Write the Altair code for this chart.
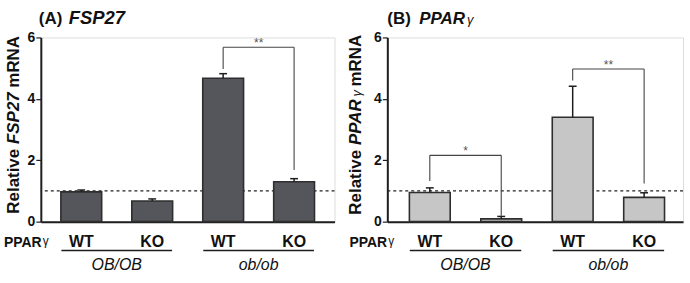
import altair as alt
import pandas as pd

# ---------------- data ----------------
genotype = ["WT", "KO", "WT", "KO"]
group = ["OB/OB", "OB/OB", "ob/ob", "ob/ob"]
bar_pos = [0.5, 1.5, 2.5, 3.5]

fsp27_mean = [0.97, 0.67, 4.67, 1.30]
fsp27_err = [0.06, 0.07, 0.15, 0.10]

pparg_mean = [0.95, 0.09, 3.40, 0.79]
pparg_err = [0.15, 0.08, 1.01, 0.15]

group_names = ["OB/OB", "ob/ob"]
group_left = [0.5, 2.5]
group_right = [1.5, 3.5]

# significance brackets
sig_a_left = [2.5]
sig_a_right = [3.5]
sig_a_lfoot = [4.97]
sig_a_top = [5.68]
sig_a_rfoot = [1.68]
sig_a_label = ["**"]

sig_b_left = [0.5, 2.5]
sig_b_right = [1.5, 3.5]
sig_b_lfoot = [1.32, 4.60]
sig_b_top = [2.16, 4.97]
sig_b_rfoot = [0.19, 1.24]
sig_b_label = ["*", "**"]

ref_level = [1.0]
y_ticks = [0, 2, 4, 6]

FONT = "Liberation Sans"
HALF = 0.28   # half bar width in x units
CAP = 0.055   # half cap width in x units
INK = "#1e1e1e"


def txt(s):
    return pd.DataFrame({"t": [s]})


def panel(mean, err, sig, fill, width, xdom, title_parts, ytitle_parts, ylab_x):
    xs = alt.Scale(domain=xdom, nice=False, zero=False)
    ys = alt.Scale(domain=[0, 6], nice=False, zero=True)
    xaxis = alt.Axis(title=None, labels=False, ticks=False, grid=False,
                     domainColor=INK, domainWidth=2)
    yaxis = alt.Axis(title=None, values=y_ticks, grid=False, domainColor=INK,
                     domainWidth=2, tickColor=INK, tickWidth=1.2, tickSize=5,
                     labelPadding=1, labelFont=FONT, labelFontSize=14,
                     labelFontWeight="bold", labelColor="#111")

    def X(f):
        return alt.X(f, type="quantitative", scale=xs, axis=xaxis)

    def X2(f):
        return alt.X2(f)

    def Y(f):
        return alt.Y(f, type="quantitative", scale=ys, axis=yaxis)

    df = pd.DataFrame({"pos": bar_pos, "mean": mean, "err": err,
                       "genotype": genotype, "group": group})
    df["top"] = df["mean"] + df["err"]
    df["capl"] = df["pos"] - CAP
    df["capr"] = df["pos"] + CAP
    base = alt.Chart(df)

    bars = base.mark_bar(size=41, fill=fill, stroke="#2e2e2e", strokeWidth=1.6).encode(
        x=X("pos"), y=Y("mean"))
    err_line = base.mark_rule(color=INK, strokeWidth=1.5).encode(
        x=X("pos"), y=Y("mean"), y2=alt.Y2("top"))
    err_cap = base.mark_rule(color=INK, strokeWidth=1.5).encode(
        x=X("capl"), x2=X2("capr"), y=Y("top"))

    ref = alt.Chart(pd.DataFrame({"ref": ref_level})).mark_rule(
        color="#222", strokeWidth=1.2, strokeDash=[3, 3]).encode(y=Y("ref"))

    # brackets
    lefts, rights, lfoot, tops, rfoot, labels = sig
    segs = []
    stars = []
    for l, r, lf, t, rf, lab in zip(lefts, rights, lfoot, tops, rfoot, labels):
        segs.append({"x": l, "x2": l, "y": lf, "y2": t})
        segs.append({"x": l, "x2": r, "y": t, "y2": t})
        segs.append({"x": r, "x2": r, "y": t, "y2": rf})
        stars.append({"x": (l + r) / 2, "y": t, "lab": lab})
    brk = alt.Chart(pd.DataFrame(segs)).mark_rule(color="#444", strokeWidth=1.1).encode(
        x=X("x"), x2=X2("x2"), y=Y("y"), y2=alt.Y2("y2"))
    star = alt.Chart(pd.DataFrame(stars)).mark_text(
        font=FONT, fontSize=12, color="#555", baseline="alphabetic", dy=0).encode(
        x=X("x"), y=Y("y"), text="lab:N")

    # labels below the axis
    geno = base.mark_text(font=FONT, fontSize=16, fontWeight="bold", color="#111",
                          baseline="alphabetic").encode(
        x=X("pos"), y=alt.value(210), text="genotype:N")
    gdf = pd.DataFrame({"name": group_names, "l": group_left, "r": group_right})
    gdf["ul"] = gdf["l"] - HALF
    gdf["ur"] = gdf["r"] + HALF
    gdf["mid"] = (gdf["l"] + gdf["r"]) / 2
    uline = alt.Chart(gdf).mark_rule(color=INK, strokeWidth=1.5).encode(
        x=X("ul"), x2=X2("ur"), y=alt.value(214))
    glab = alt.Chart(gdf).mark_text(font=FONT, fontSize=16, fontStyle="italic",
                                    color="#111", baseline="alphabetic").encode(
        x=X("mid"), y=alt.value(234), text="name:N")

    ppar = alt.Chart(txt("PPAR")).mark_text(
        font=FONT, fontSize=14, fontWeight="bold", color="#111", align="left",
        baseline="alphabetic").encode(x=alt.value(ylab_x), y=alt.value(210), text="t:N")
    gam = alt.Chart(txt("γ")).mark_text(
        font=FONT, fontSize=12, color="#111", align="left",
        baseline="alphabetic").encode(x=alt.value(ylab_x + 39), y=alt.value(208), text="t:N")

    layers = [ref, bars, err_line, err_cap, brk, star, geno, uline, glab, ppar, gam]

    # panel title pieces
    for s, x, style in title_parts:
        kw = dict(font=FONT, fontSize=style.get("size", 17), color="#111", align="left",
                  baseline="alphabetic")
        if style.get("bold", True):
            kw["fontWeight"] = "bold"
        if style.get("italic", False):
            kw["fontStyle"] = "italic"
        layers.append(alt.Chart(txt(s)).mark_text(**kw).encode(
            x=alt.value(x), y=alt.value(-13.5), text="t:N"))

    # rotated y-axis title pieces
    for s, y, style in ytitle_parts:
        kw = dict(font=FONT, fontSize=style.get("size", 17), color="#111", align="left",
                  baseline="alphabetic", angle=270)
        if style.get("bold", True):
            kw["fontWeight"] = "bold"
        if style.get("italic", False):
            kw["fontStyle"] = "italic"
        layers.append(alt.Chart(txt(s)).mark_text(**kw).encode(
            x=alt.value(style.get("x")), y=alt.value(y), text="t:N"))

    return alt.layer(*layers).properties(width=width, height=185)


panel_a = panel(
    fsp27_mean, fsp27_err,
    (sig_a_left, sig_a_right, sig_a_lfoot, sig_a_top, sig_a_rfoot, sig_a_label),
    "#55565b", 295, [0, 4],
    [("(A)", -2, {}), ("FSP27", 28, {"italic": True, "size": 18.5})],
    [("Relative", 177, {"x": -22}), ("FSP27", 107, {"x": -22, "italic": True}),
     ("mRNA", 50.4, {"x": -22})],
    -37,
)

panel_b = panel(
    pparg_mean, pparg_err,
    (sig_b_left, sig_b_right, sig_b_lfoot, sig_b_top, sig_b_rfoot, sig_b_label),
    "#c6c6c6", 297, [-0.025, 3.975],
    [("(B)", 0, {}), ("PPAR", 32, {"italic": True}),
     ("γ", 80, {"italic": True, "bold": False, "size": 13})],
    [("Relative", 178, {"x": -26}), ("PPAR", 108, {"x": -26, "italic": True}),
     ("γ", 59.4, {"x": -26, "italic": True, "bold": False, "size": 13}),
     ("mRNA", 49.2, {"x": -26})],
    -38,
)

chart = alt.hconcat(panel_a, panel_b, spacing=53, bounds="flush").properties(
    padding={"left": 3, "top": 8, "right": 5, "bottom": 5}
).configure_view(stroke=None).configure(background="white")

chart.save("out.html", embed_options={"renderer": "svg", "actions": False})
